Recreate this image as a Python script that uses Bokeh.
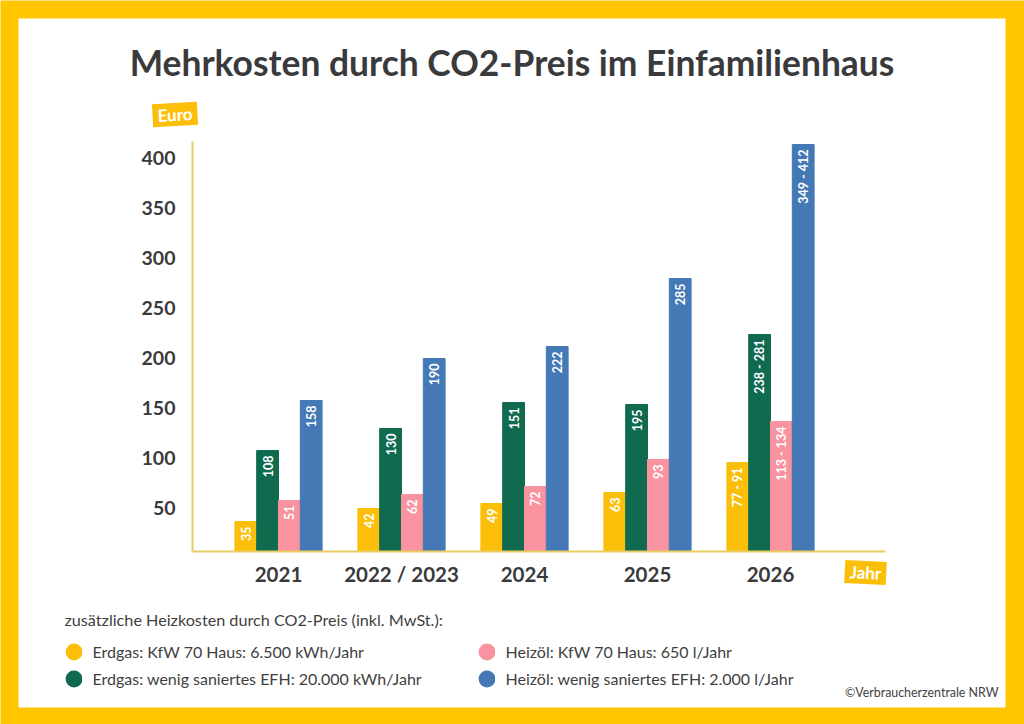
import math
from bokeh.plotting import figure
from bokeh.core.properties import value
from bokeh.models import (ColumnDataSource, Range1d, FixedTicker, Label, BoxAnnotation, Legend, LegendItem, LabelSet)
from bokeh.embed import file_html
from bokeh.resources import INLINE

# ---------- data ----------
years = ["2021", "2022 / 2023", "2024", "2025", "2026"]
series_names = ["Erdgas: KfW 70 Haus: 6.500 kWh/Jahr",
                "Erdgas: wenig saniertes EFH: 20.000 kWh/Jahr",
                "Heizöl: KfW 70 Haus: 650 l/Jahr",
                "Heizöl: wenig saniertes EFH: 2.000 l/Jahr"]
gas_kfw = [36, 49, 54, 65, 95]
gas_efh = [107, 129, 155, 153, 223]
oil_kfw = [57, 63, 71, 98, 136]
oil_efh = [157, 199, 211, 279, 413]
gas_kfw_labels = ["35", "42", "49", "63", "77 - 91"]
gas_efh_labels = ["108", "130", "151", "195", "238 - 281"]
oil_kfw_labels = ["51", "62", "72", "93", "113 - 134"]
oil_efh_labels = ["158", "190", "222", "285", "349 - 412"]
y_ticks = [50, 100, 150, 200, 250, 300, 350, 400]

# ---------- style ----------
FRAME = "#FFC600"
AXIS = "#E8CE62"
DARK = "#3A3A3C"
TEXT = "#3F3F42"
COLORS = ["#FBBF0A", "#0F6A4F", "#F8939F", "#4479B5"]
FONT = "Lato"
W, H = 1024, 724
LEFT, RIGHT, TOP, BOTTOM = 192, 885, 141, 551
SLOT = 123      # px per year group
ORIGIN_X = 278  # px of the first group
ZERO_Y = 557    # px of value 0
BAR = 21.8 / SLOT

def px(v):  # page pixel -> data x
    return (v - ORIGIN_X) / SLOT
def py(v):  # page pixel -> data y
    return ZERO_Y - v

p = figure(width=W, height=H, output_backend="svg", toolbar_location=None,
           x_range=Range1d(px(0), px(W)), y_range=Range1d(py(H), py(0)),
           min_border=0, border_fill_color=FRAME, background_fill_color=FRAME,
           outline_line_color=None)
p.grid.visible = False

p.add_layout(BoxAnnotation(left=px(18), right=px(1005), top=py(18), bottom=py(707),
                           fill_color="white", fill_alpha=1, line_color=None, level="underlay"))

p.add_layout(Label(x=px(511.5), y=py(62), text="Mehrkosten durch CO2-Preis im Einfamilienhaus",
                   text_align="center", text_baseline="middle", text_color=DARK,
                   text_font=FONT, text_font_style="bold", text_font_size="35.4px"))

# axes
for ax in (p.xaxis[0], p.yaxis[0]):
    ax.axis_line_color = AXIS
    ax.axis_line_width = 2
    ax.major_tick_line_color = None
    ax.minor_tick_line_color = None
    ax.major_label_text_font = FONT
    ax.major_label_text_font_style = "bold"
    ax.major_label_text_color = DARK
p.yaxis[0].major_label_text_font_size = "19.5px"
p.xaxis[0].major_label_text_font_size = "20.5px"
p.yaxis[0].fixed_location = px(LEFT)
p.yaxis[0].bounds = (py(BOTTOM), py(TOP))
p.yaxis[0].ticker = FixedTicker(ticks=y_ticks)
p.yaxis[0].major_label_standoff = 11
p.xaxis[0].fixed_location = py(BOTTOM)
p.xaxis[0].bounds = (px(LEFT), px(RIGHT))
p.xaxis[0].ticker = FixedTicker(ticks=list(range(len(years))))
p.xaxis[0].major_label_overrides = {i: y for i, y in enumerate(years)}
p.xaxis[0].major_label_standoff = 4

# bars
all_values = [gas_kfw, gas_efh, oil_kfw, oil_efh]
all_labels = [gas_kfw_labels, gas_efh_labels, oil_kfw_labels, oil_efh_labels]
legend_items = []
for k, (vals, labs) in enumerate(zip(all_values, all_labels)):
    xs = [i + (k - 1.5) * BAR for i in range(len(years))]
    src = ColumnDataSource(dict(x=xs, top=vals, label=labs))
    p.vbar(x="x", top="top", bottom=py(BOTTOM), width=BAR, color=COLORS[k], source=src)
    p.add_layout(LabelSet(x="x", y="top", text="label", source=src, angle=math.pi / 2,
                          text_align="right", text_baseline="middle", y_offset=-5,
                          text_color="white", text_font=value(FONT), text_font_style="bold",
                          text_font_size="12.5px"))
    swatch = p.scatter(x=[float("nan")], y=[float("nan")], marker="circle", size=17,
                       color=COLORS[k], line_width=10)
    legend_items.append(LegendItem(label=series_names[k], renderers=[swatch]))

legend = Legend(items=legend_items, nrows=2, location=(64.5, H - 692),
                title="zusätzliche Heizkosten durch CO2-Preis (inkl. MwSt.):",
                title_text_font=FONT, title_text_font_size="16.2px", title_text_font_style="normal",
                title_text_color=TEXT, title_standoff=9,
                label_text_font=FONT, label_text_font_size="16px", label_text_color=TEXT,
                glyph_width=17, glyph_height=27, label_height=27, label_width=385,
                label_standoff=11, spacing=0, padding=0, margin=0,
                background_fill_alpha=0, border_line_color=None)
p.add_layout(legend)

# tags
def tag(text, cx, cy, deg):
    p.add_layout(Label(x=px(cx), y=py(cy), text=text, angle=math.radians(deg),
                       text_align="center", text_baseline="middle", text_color="white",
                       text_font=FONT, text_font_style="bold", text_font_size="17px",
                       background_fill_color=COLORS[0], padding=(5, 1)))
tag("Euro", 174.5, 114, 3)
tag("Jahr", 865, 572, -3)

p.add_layout(Label(x=px(998), y=py(692), text="©Verbraucherzentrale NRW", text_align="right",
                   text_baseline="middle", text_color=TEXT, text_font=FONT, text_font_size="12.4px"))

open("out.html", "w").write(file_html(p, INLINE))
